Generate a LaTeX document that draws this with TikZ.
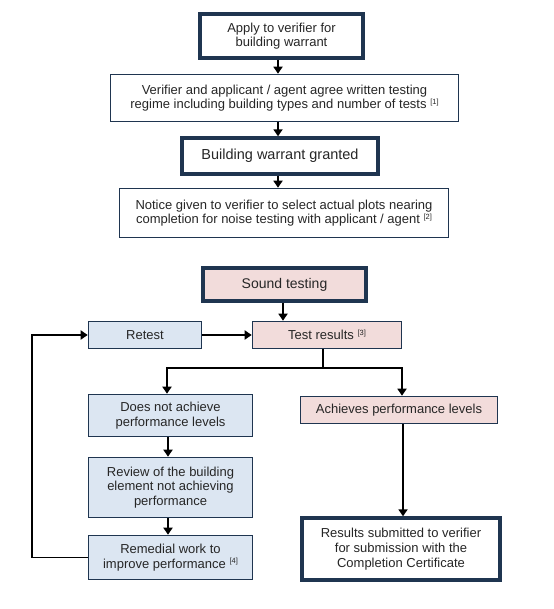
\documentclass[tikz,border=0pt]{standalone}
\usepackage{fontspec}
\setmainfont{Liberation Sans}
\usetikzlibrary{arrows.meta,calc}
\definecolor{bord}{HTML}{1F3550}
\definecolor{pinkf}{HTML}{F2DCDB}
\definecolor{bluef}{HTML}{DCE6F2}
\definecolor{txt}{HTML}{262626}
\newcommand{\refn}[1]{\raisebox{4.5pt}{\fontsize{7.5}{8}\selectfont[#1]}}
\tikzset{
  box/.style={draw=bord, line width=1.6pt, rectangle, inner sep=0pt, align=center, text=txt,
    font=\fontsize{13}{14.7}\selectfont, fill=white},
  thickbox/.style={box, line width=3.4pt},
  pinkbox/.style={fill=pinkf},
  bluebox/.style={fill=bluef},
  arr/.style={line width=1.8pt, black, -{Triangle[width=9pt,length=7pt]}},
  ln/.style={line width=1.8pt, black}
}
\begin{document}
\begin{tikzpicture}[x=1pt,y=-1pt]
\useasboundingbox (0,0) rectangle (553,609);
% top chain
\node[thickbox, minimum width=163pt, minimum height=44pt] (a1) at (281.5,36) {Apply to verifier for\\building warrant};
\node[box, minimum width=348pt, minimum height=47pt] (a2) at (284.5,98) {Verifier and applicant / agent agree written testing\\regime including building types and number of tests \refn{1}};
\node[thickbox, minimum width=196pt, minimum height=36pt, font=\fontsize{14.5}{16}\selectfont] (a3) at (280,156) {Building warrant granted};
\node[box, minimum width=329pt, minimum height=49pt] (a4) at (284,213) {Notice given to verifier to select actual plots nearing\\completion for noise testing with applicant / agent \refn{2}};
\coordinate (ax) at (278,0);
\draw[arr] (a1.south -| ax) -- (a2.north -| ax);
\draw[arr] (a2.south -| ax) -- (a3.north -| ax);
\draw[arr] (a3.south -| ax) -- (a4.north -| ax);
% lower part
\node[thickbox, pinkbox, minimum width=163pt, minimum height=33pt, font=\fontsize{14}{16}\selectfont] (snd) at (284.5,284.5) {Sound testing};
\node[box, bluebox, minimum width=113pt, minimum height=27pt] (ret) at (145,335) {Retest};
\node[box, pinkbox, minimum width=149pt, minimum height=27pt] (tr) at (327,335) {Test results \refn{3}};
\node[box, bluebox, minimum width=164pt, minimum height=42pt] (dna) at (170.5,415.5) {Does not achieve\\performance levels};
\node[box, pinkbox, minimum width=197pt, minimum height=27pt] (ach) at (399,410) {Achieves performance levels};
\node[box, bluebox, minimum width=164pt, minimum height=60pt] (rev) at (170.5,487.5) {Review of the building\\element not achieving\\performance};
\node[box, bluebox, minimum width=164pt, minimum height=44pt] (rem) at (170.5,557.5) {Remedial work to\\improve performance \refn{4}};
\node[thickbox, minimum width=198pt, minimum height=62pt] (res) at (401,549) {Results submitted to verifier\\for submission with the\\Completion Certificate};
% connectors
\coordinate (sx) at (283,0);
\draw[arr] (snd.south -| sx) -- (tr.north -| sx);
\draw[arr] (ret.east) -- (tr.west);
\coordinate (tx) at (323,0);
\coordinate (lx) at (167,0);
\coordinate (rx) at (402,0);
\coordinate (by) at (0,368);
\draw[ln] (tr.south -| tx) -- (tx |- by);
\draw[arr] (lx |- by) -- (dna.north -| lx);
\draw[arr] (rx |- by) -- (ach.north -| rx);
\draw[ln] ($(lx |- by)+(-0.9,0)$) -- ($(rx |- by)+(0.9,0)$);
\coordinate (dx) at (168,0);
\draw[arr] (dna.south -| dx) -- (rev.north -| dx);
\draw[arr] (rev.south -| dx) -- (rem.north -| dx);
\coordinate (cx) at (403,0);
\draw[arr] (ach.south -| cx) -- (res.north -| cx);
\coordinate (loopx) at (32,0);
\draw[arr] (rem.west) -- (rem.west -| loopx) -- (ret.west -| loopx) -- (ret.west);
\end{tikzpicture}
\end{document}
